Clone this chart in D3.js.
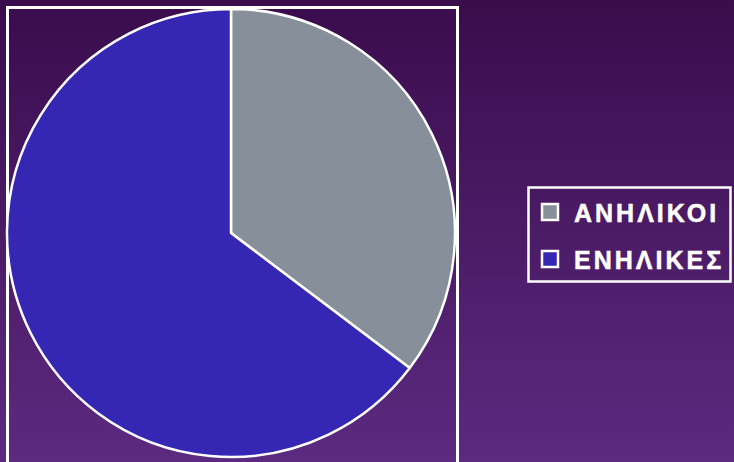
<!DOCTYPE html>
<html>
<head>
<meta charset="utf-8">
<script src="https://cdn.jsdelivr.net/npm/d3@7"></script>
<style>
  html, body { margin: 0; padding: 0; }
  svg { display: block; }
</style>
</head>
<body>
<svg id="chart" width="734" height="462"></svg>
<script>
// Share of minors vs adults
const categories = ["ΑΝΗΛΙΚΟΙ", "ΕΝΗΛΙΚΕΣ"];
const values = [35.3, 64.7];
const colors = ["#87909a", "#3526b4"];

const W = 734, H = 462;
const svg = d3.select("#chart");

// Purple vertical gradient backdrop
const defs = svg.append("defs");
const grad = defs.append("linearGradient")
  .attr("id", "bg").attr("x1", 0).attr("y1", 0).attr("x2", 0).attr("y2", 1);
grad.append("stop").attr("offset", "0%").attr("stop-color", "#3a0c4c");
grad.append("stop").attr("offset", "100%").attr("stop-color", "#5c2a80");
svg.append("rect").attr("width", W).attr("height", H).attr("fill", "url(#bg)");

// Plot-area frame
svg.append("rect")
  .attr("x", 7.5).attr("y", 7.5)
  .attr("width", 450).attr("height", 470)
  .attr("fill", "none").attr("stroke", "#fff").attr("stroke-width", 3);

// Pie
const cx = 231, cy = 233, r = 224;
const pie = d3.pie().sort(null).value(d => d)(values);
const arc = d3.arc().innerRadius(0).outerRadius(r);
const color = d3.scaleOrdinal().domain(categories).range(colors);

svg.append("g")
  .attr("transform", `translate(${cx},${cy})`)
  .selectAll("path")
  .data(pie)
  .join("path")
  .attr("d", arc)
  .attr("fill", (d, i) => color(categories[i]))
  .attr("stroke", "#fff")
  .attr("stroke-width", 2.5)
  .attr("stroke-linejoin", "round");

// Legend
const lg = svg.append("g");
lg.append("rect")
  .attr("x", 528.5).attr("y", 187.5)
  .attr("width", 202).attr("height", 94)
  .attr("fill", "none").attr("stroke", "#fff").attr("stroke-width", 2.5);

const items = lg.selectAll("g.item")
  .data(categories)
  .join("g")
  .attr("class", "item")
  .attr("transform", (d, i) => `translate(0,${i * 47})`);

items.append("rect")
  .attr("x", 542).attr("y", 204)
  .attr("width", 16).attr("height", 16)
  .attr("fill", d => color(d))
  .attr("stroke", "#fff").attr("stroke-width", 2.5);

items.append("text")
  .attr("x", 574).attr("y", 221.5)
  .attr("fill", "#fff")
  .attr("stroke", "#fff").attr("stroke-width", 0.5)
  .attr("font-family", "Liberation Sans, Arial, sans-serif")
  .attr("font-weight", "bold")
  .attr("font-size", 25)
  .attr("letter-spacing", 3)
  .text(d => d);
</script>
</body>
</html>
